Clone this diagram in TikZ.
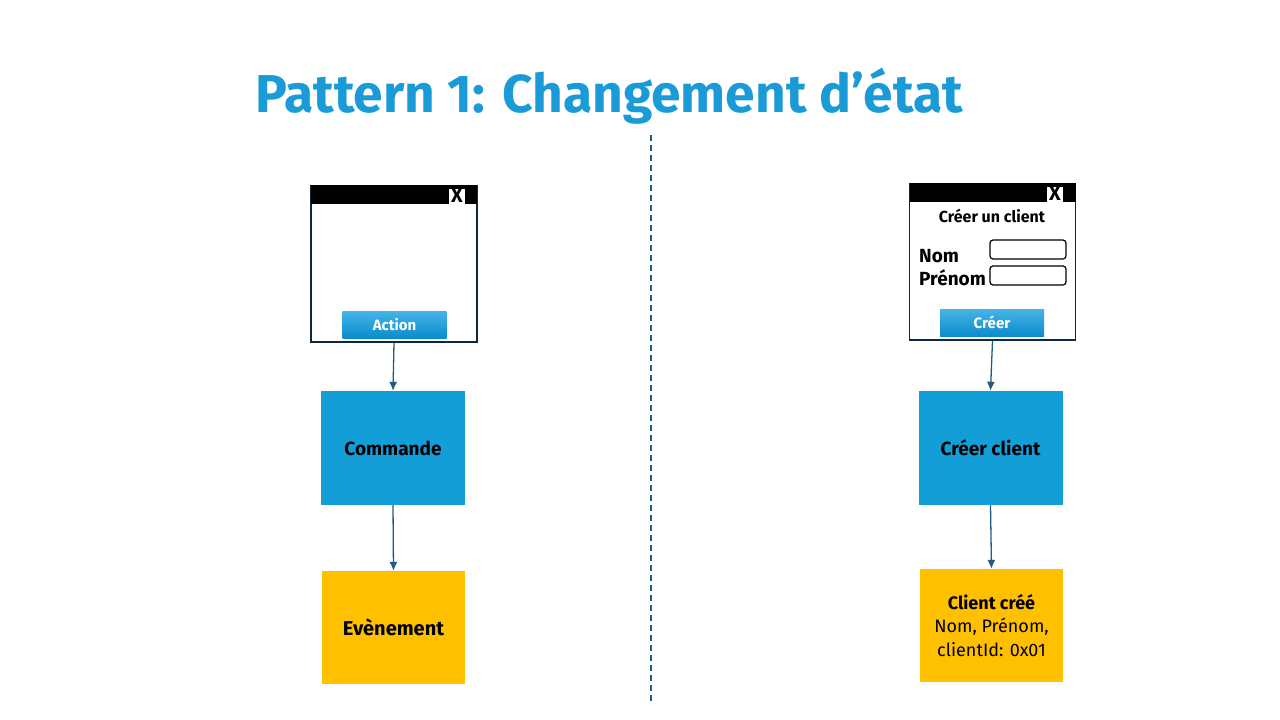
\documentclass[tikz,border=0pt]{standalone}
\usepackage{fontspec}
\setmainfont{Fira Sans}
\usetikzlibrary{positioning,arrows.meta}
\definecolor{titleblue}{HTML}{1A9BD7}
\definecolor{boxblue}{HTML}{139ED8}
\definecolor{evtyellow}{HTML}{FFC000}
\definecolor{linkblue}{HTML}{1F5C80}
\definecolor{winframe}{HTML}{0E2841}
\definecolor{btntop}{HTML}{45B5E8}
\definecolor{btnbot}{HTML}{0B8CCB}

\begin{document}
\begin{tikzpicture}[x=1pt,y=-1pt,
    window/.style={draw=winframe,line width=1.6pt,minimum width=166pt,minimum height=156pt,inner sep=0pt},
    titlebar/.style={fill=black,minimum width=166pt,minimum height=19pt,inner sep=0pt,anchor=north},
    closebox/.style={fill=white,minimum width=16pt,minimum height=15pt,inner sep=0pt,font=\fontsize{20}{20}\selectfont\bfseries},
    button/.style={top color=btntop,bottom color=btnbot,minimum width=104pt,minimum height=27pt,inner sep=0pt,text=white,font=\fontsize{15}{15}\selectfont\bfseries},
    field/.style={draw=black,line width=1.2pt,rounded corners=3pt,minimum width=76pt,minimum height=19pt,inner sep=0pt},
    cmdbox/.style={fill=boxblue,minimum width=144pt,minimum height=114pt,inner sep=0pt,font=\fontsize{19}{19}\selectfont\bfseries},
    evtbox/.style={fill=evtyellow,minimum width=143pt,minimum height=113pt,inner sep=0pt,align=center,font=\fontsize{18}{23.5}\selectfont},
    link/.style={draw=linkblue,line width=1.3pt,-{Latex[length=9pt,width=8pt]}}]

	\useasboundingbox (0,0) rectangle (1280,720);
	
	\node[anchor=base west,text=titleblue,inner sep=0pt,font=\fontsize{53.3}{58}\selectfont\bfseries] (title) at (255,112) {Pattern 1: Changement d’état};
	
	\coordinate (sepTop) at (651,135);
	\coordinate (sepBot) at (651,702);
	\draw[linkblue,line width=1.4pt,dash pattern=on 6pt off 4pt] (sepTop) -- (sepBot);
	
	% left side
	\node[window] (win1) at (394,264) {};
	\node[titlebar] (bar1) at (win1.north) {};
	\node[closebox] (close1) at (457,196) {X};
	\node[button] (btn1) at (394.5,324.5) {Action};
	\node[cmdbox] (cmd1) at (393,448) {Commande};
	\node[evtbox] (evt1) at (393.5,627.5) {\fontsize{20}{20}\selectfont\bfseries Evènement};
	\draw[link] (win1.south) -- (cmd1.north);
	\draw[link] (cmd1.south) -- (evt1.north);
	
	% right side
	\node[window] (win2) at (992.5,262) {};
	\node[titlebar] (bar2) at (win2.north) {};
	\node[closebox] (close2) at (1055,194) {X};
	\node[font=\fontsize{16}{16}\selectfont\bfseries] (form) at (992,216) {Créer un client};
	\node[anchor=west,inner sep=0pt,font=\fontsize{19}{19}\selectfont\bfseries] (nom) at (919,256) {Nom};
	\node[anchor=west,inner sep=0pt,font=\fontsize{19}{19}\selectfont\bfseries] (prenom) at (919,278) {Prénom};
	\node[field] (fNom) at (1028,249.5) {};
	\node[field] (fPrenom) at (1028,275.5) {};
	\node[button] (btn2) at (992,322.5) {Créer};
	\node[cmdbox] (cmd2) at (990.5,448) {Créer client};
	\node[evtbox] (evt2) at (991.5,625.5) {\textbf{Client créé}\\Nom, Prénom,\\clientId: 0x01};
	\draw[link] (win2.south) -- (cmd2.north);
	\draw[link] (cmd2.south) -- (evt2.north);

\end{tikzpicture}
\end{document}
